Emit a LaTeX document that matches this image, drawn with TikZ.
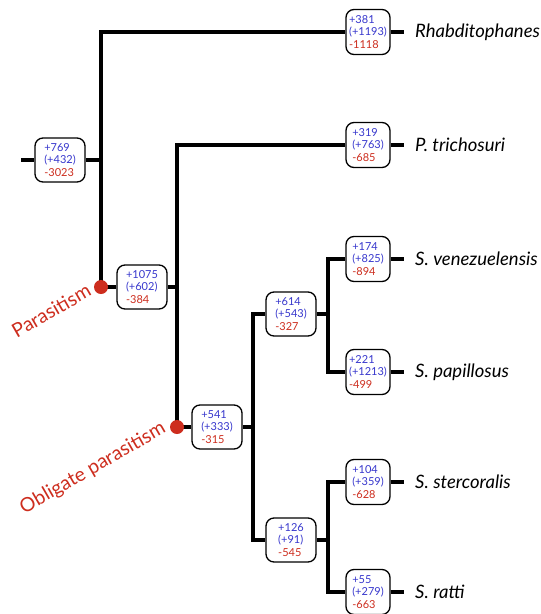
\documentclass[tikz,border=0pt]{standalone}
\usepackage{fontspec}
\setmainfont{Lato}
\usepackage{tikz}
\usetikzlibrary{calc, positioning}
\definecolor{gainblue}{RGB}{55,55,205}
\definecolor{lossred}{RGB}{205,45,30}
\newcommand{\cnt}[3]{{\color{gainblue}#1}\\{\color{gainblue}(#2)}\\{\color{lossred}#3}}

\begin{document}
\begin{tikzpicture}[x=1pt, y=-1pt,
	branch/.style={line width=3.8pt},
	cntbox/.style={draw, fill=white, line width=1.3pt, rounded corners=8pt, minimum width=50pt, minimum height=44pt, align=left, inner xsep=5pt, inner ysep=2pt, font=\fontsize{11}{12.8}\selectfont},
	leafbox/.style={cntbox, minimum width=44pt, minimum height=45pt, inner xsep=3pt},
	species/.style={anchor=west, inner xsep=11pt, inner ysep=0pt, font=\fontsize{18.5}{21}\selectfont\itshape},
	event/.style={circle, fill=lossred, inner sep=0pt, minimum size=14pt},
	eventtext/.style={text=lossred, rotate=30, font=\fontsize{19.5}{22}\selectfont}]
		\useasboundingbox (0,0) rectangle (541,614);
		% count boxes
		\node[cntbox] (nroot) at (60, 160) {\cnt{+769}{+432}{-3023}};
		\node[cntbox] (npar) at (142, 287) {\cnt{+1075}{+602}{-384}};
		\node[cntbox] (nobl) at (217, 427) {\cnt{+541}{+333}{-315}};
		\node[cntbox] (nsvsp) at (291, 314) {\cnt{+614}{+543}{-327}};
		\node[cntbox] (nssr) at (291, 540) {\cnt{+126}{+91}{-545}};
		\node[leafbox] (brh) at (368, 32) {\cnt{+381}{+1193}{-1118}};
		\node[leafbox] (bpt) at (368, 145) {\cnt{+319}{+763}{-685}};
		\node[leafbox] (bsv) at (368, 259) {\cnt{+174}{+825}{-894}};
		\node[leafbox] (bsp) at (368, 372) {\cnt{+221}{+1213}{-499}};
		\node[leafbox] (bss) at (368, 482) {\cnt{+104}{+359}{-628}};
		\node[leafbox] (bsr) at (368, 592) {\cnt{+55}{+279}{-663}};
		% species
		\node[species] (rh) at (404, 32) {Rhabditophanes};
		\node[species] (pt) at (404, 145) {P. trichosuri};
		\node[species] (sv) at (404, 259) {S. venezuelensis};
		\node[species] (sp) at (404, 372) {S. papillosus};
		\node[species] (ss) at (404, 482) {S. stercoralis};
		\node[species] (sr) at (404, 592) {S. ratti};
		% events
		\coordinate (rootin) at (21, 160);
		\coordinate (dpar) at (101, 287);
		\coordinate (dobl) at (177, 427);
		\coordinate (jobl) at (253, 427);
		\coordinate (jsvsp) at (328, 314);
		\coordinate (jssr) at (328, 540);
		% branches
		\draw[branch] (rootin) -- (nroot);
		\draw[branch] (nroot) -- (nroot -| dpar);
		\draw[branch] (dpar) |- (brh);
		\draw[branch] (dpar) -- (npar);
		\draw[branch] (npar) -- (npar -| dobl);
		\draw[branch] (dobl) |- (bpt);
		\draw[branch] (dobl) -- (nobl);
		\draw[branch] (nobl) -- (jobl);
		\draw[branch] (jobl) |- (nsvsp);
		\draw[branch] (jobl) |- (nssr);
		\draw[branch] (nsvsp) -- (jsvsp);
		\draw[branch] (jsvsp) |- (bsv);
		\draw[branch] (jsvsp) |- (bsp);
		\draw[branch] (nssr) -- (jssr);
		\draw[branch] (jssr) |- (bss);
		\draw[branch] (jssr) |- (bsr);
		\draw[branch] (brh) -- (rh);
		\draw[branch] (bpt) -- (pt);
		\draw[branch] (bsv) -- (sv);
		\draw[branch] (bsp) -- (sp);
		\draw[branch] (bss) -- (ss);
		\draw[branch] (bsr) -- (sr);
		\node[event] (epar) at (dpar) {};
		\node[event] (eobl) at (dobl) {};
		\node[eventtext, anchor=south east, inner sep=0pt] (tpar) at ($(epar.south west)+(-3,3)$) {Parasitism};
		\node[eventtext, anchor=south east, inner sep=0pt] (tobl) at ($(eobl.south west)+(-3,3)$) {Obligate parasitism};
	\end{tikzpicture}
\end{document}
